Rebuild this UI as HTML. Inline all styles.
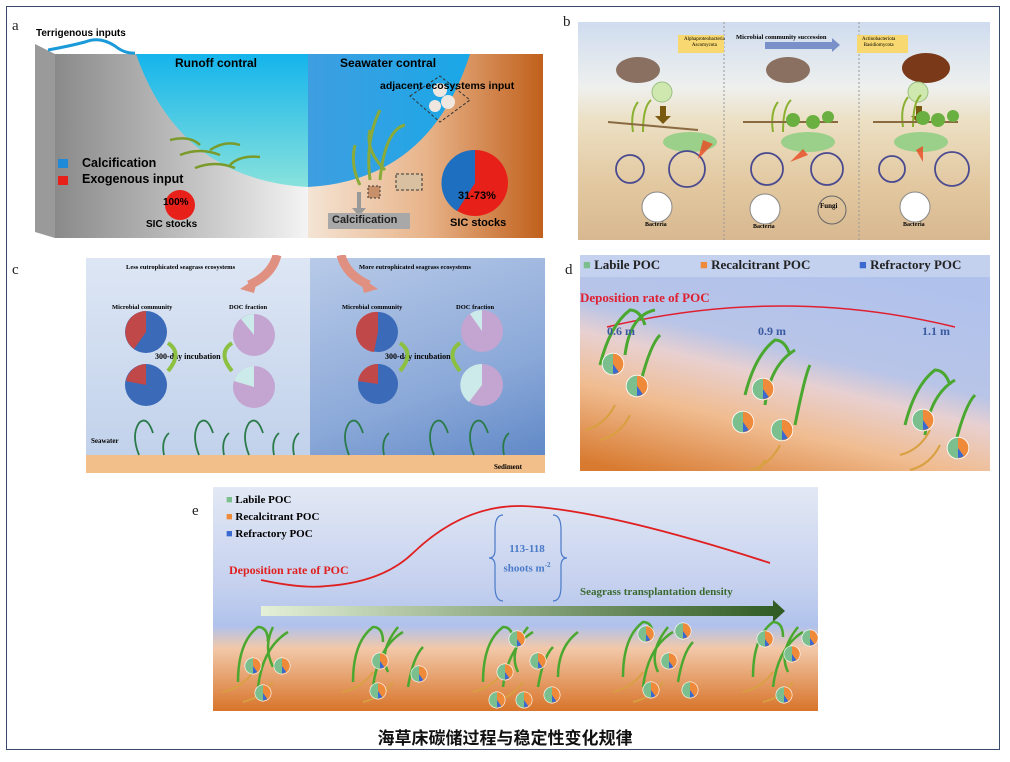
<!DOCTYPE html>
<html><head><meta charset="utf-8"><style>
body{margin:0;width:1010px;height:762px;background:#fff;position:relative;overflow:hidden;font-family:"Liberation Sans","Noto Sans CJK SC",sans-serif}
.abs{position:absolute}
.lbl{position:absolute;font-size:15px;color:#222;font-family:"Liberation Serif",serif}
.serif{font-family:"Liberation Serif",serif}
</style></head><body>
<svg width="0" height="0" style="position:absolute">
<defs>
<symbol id="pie" viewBox="-1.15 -1.15 2.3 2.3">
<circle r="1.08" fill="#fff"/>
<path d="M0 -1 A1 1 0 0 0 0 1Z" fill="#7cbf8e"/>
<path d="M0 -1 A1 1 0 0 1 0 1Z" fill="#ee8a3a"/>
<path d="M0 0 L0 0.95 A0.95 0.95 0 0 0 0.55 0.77Z" fill="#3a6ad0"/>
</symbol>
</defs></svg>
<div class="abs" style="left:6px;top:6px;width:992px;height:742px;border:1.5px solid #3a4a6a"></div>
<div class="lbl" style="left:12px;top:18px">a</div>
<div class="lbl" style="left:563px;top:14px">b</div>
<div class="lbl" style="left:12px;top:262px">c</div>
<div class="lbl" style="left:565px;top:262px">d</div>
<div class="lbl" style="left:192px;top:503px">e</div>

<!-- panel a -->
<svg class="abs" style="left:30px;top:20px" width="530" height="225">
<defs>
<linearGradient id="gl" x1="0" x2="1"><stop offset="0" stop-color="#8a8a8a"/><stop offset="0.6" stop-color="#c8c8c8"/><stop offset="1" stop-color="#f4f4f4"/></linearGradient>
<linearGradient id="gr" x1="0" x2="1"><stop offset="0" stop-color="#f4e4d4"/><stop offset="0.5" stop-color="#e8b48a"/><stop offset="1" stop-color="#c0601c"/></linearGradient>
<linearGradient id="wl" x1="0" y1="0" x2="0" y2="1"><stop offset="0" stop-color="#14b4ec"/><stop offset="1" stop-color="#88e2dc"/></linearGradient>
<linearGradient id="wr" x1="0" x2="1"><stop offset="0" stop-color="#3e9ee0"/><stop offset="1" stop-color="#1aa8e8"/></linearGradient>
</defs>
<polygon points="5,24 25,34 25,218 5,212" fill="#9a9a9a"/>
<rect x="25" y="34" width="253" height="184" fill="url(#gl)"/>
<rect x="278" y="34" width="235" height="184" fill="url(#gr)"/>
<path d="M106 34 Q150 160 278 167 L278 34Z" fill="url(#wl)"/>
<path d="M278 34 L440 34 Q400 160 278 167Z" fill="url(#wr)"/>
<path d="M18 30 Q40 26 55 22 Q70 16 85 26 Q95 34 105 33" stroke="#1a9ad8" stroke-width="3" fill="none"/>
<g stroke="#7a9a2a" stroke-width="2.5" fill="none"><path d="M140 120 q20-5 30 5"/><path d="M150 135 q20-8 40 0"/><path d="M165 148 q20-8 40 0"/><path d="M180 130 q15-10 30-5"/><path d="M200 145 q10-10 30-8"/></g>
<g stroke="#8aaa3a" stroke-width="3" fill="none"><path d="M340 160 q-5-40 10-70"/><path d="M350 160 q5-50 25-55"/><path d="M330 165 q-10-20 -5-40"/><path d="M355 150 q-20-20 -15-40"/></g>
<path d="M380 76 L410 56 L440 80 L410 102Z" fill="none" stroke="#333" stroke-dasharray="3 2"/>
<g fill="#f0e8e0"><circle cx="410" cy="70" r="7"/><circle cx="418" cy="82" r="7"/><circle cx="405" cy="86" r="6"/></g>
<rect x="366" y="154" width="26" height="16" fill="#d8c0a0" stroke="#333" stroke-dasharray="3 2"/>
<rect x="338" y="166" width="12" height="12" fill="#c8906a" stroke="#333" stroke-dasharray="2 2"/>
<rect x="327" y="172" width="4" height="18" fill="#999"/>
<polygon points="322,188 336,188 329,196" fill="#999"/>
<rect x="298" y="193" width="82" height="16" fill="#a8a8a8"/>
<circle cx="150" cy="185" r="15" fill="#e8201a"/>
<circle cx="445" cy="163" r="33" fill="#e8201a"/>
<path d="M445 163 L445 130 A33 33 0 0 0 427 191Z" fill="#1e6fc0"/>
<rect x="28" y="139" width="10" height="9" fill="#1e8ad8"/>
<rect x="28" y="156" width="10" height="9" fill="#e8201a"/>
</svg>
<div class="abs" style="left:36px;top:28px;font-size:10px;font-weight:bold">Terrigenous inputs</div>
<div class="abs" style="left:175px;top:56px;font-size:12px;font-weight:bold">Runoff contral</div>
<div class="abs" style="left:340px;top:56px;font-size:12px;font-weight:bold">Seawater contral</div>
<div class="abs" style="left:380px;top:80px;font-size:10.5px;font-weight:bold">adjacent ecosystems input</div>
<div class="abs" style="left:82px;top:156px;font-size:12.5px;font-weight:bold">Calcification</div>
<div class="abs" style="left:82px;top:172px;font-size:12.5px;font-weight:bold">Exogenous input</div>
<div class="abs" style="left:163px;top:197px;font-size:10px;font-weight:bold">100%</div>
<div class="abs" style="left:146px;top:219px;font-size:10px;font-weight:bold">SIC stocks</div>
<div class="abs" style="left:332px;top:214px;font-size:11px;font-weight:bold;color:#222">Calcification</div>
<div class="abs" style="left:458px;top:190px;font-size:11px;font-weight:bold">31-73%</div>
<div class="abs" style="left:450px;top:217px;font-size:11px;font-weight:bold">SIC stocks</div>

<!-- panel b -->
<div class="abs" style="left:578px;top:22px;width:412px;height:218px;background:linear-gradient(#cfdcef,#eef0ee 30%,#ece0c4 45%,#e2c8a0 75%,#d8b890)"></div>
<svg class="abs" style="left:578px;top:22px" width="412" height="218">
<g stroke="#999" stroke-dasharray="2 2"><line x1="146" y1="0" x2="146" y2="218"/><line x1="281" y1="0" x2="281" y2="218"/></g>
<rect x="100" y="13" width="46" height="18" fill="#f8d870"/>
<rect x="279" y="13" width="51" height="18" fill="#f8d870"/>
<rect x="187" y="20" width="67" height="7" fill="#7a90c8"/><polygon points="254,16 262,23 254,30" fill="#7a90c8"/>
<g fill="#8a7060"><ellipse cx="60" cy="48" rx="22" ry="13"/><ellipse cx="210" cy="48" rx="22" ry="13"/></g>
<ellipse cx="348" cy="46" rx="24" ry="15" fill="#7a3a1a"/>
<g fill="#cfe8b0" stroke="#9ac080"><circle cx="84" cy="70" r="10"/><circle cx="340" cy="70" r="10"/></g>
<g fill="#7a5a10"><rect x="82" y="84" width="6" height="10"/><polygon points="77,94 93,94 85,102"/><rect x="338" y="84" width="6" height="10"/><polygon points="333,94 349,94 341,102"/></g>
<g stroke="#8ab030" stroke-width="2" fill="none"><path d="M55 110 q-3-20 5-30"/><path d="M65 110 q0-25 8-32"/><path d="M195 110 q-3-20 5-30"/><path d="M205 110 q0-25 8-32"/><path d="M325 105 q-3-20 5-30"/><path d="M335 105 q0-25 8-32"/></g>
<g stroke="#8a6a40" stroke-width="2"><line x1="30" y1="100" x2="120" y2="108"/><line x1="165" y1="100" x2="260" y2="100"/><line x1="295" y1="100" x2="380" y2="100"/></g>
<g fill="#6ab040"><circle cx="215" cy="98" r="7"/><circle cx="235" cy="100" r="7"/><circle cx="250" cy="95" r="6"/><circle cx="345" cy="96" r="7"/><circle cx="360" cy="98" r="7"/><circle cx="375" cy="94" r="6"/></g>
<g fill="#9ad08a"><ellipse cx="112" cy="120" rx="27" ry="10"/><ellipse cx="230" cy="120" rx="27" ry="10"/><ellipse cx="343" cy="120" rx="27" ry="10"/></g>
<g fill="none" stroke="#4a4a90" stroke-width="1.8"><circle cx="52" cy="147" r="14"/><circle cx="109" cy="147" r="18"/><circle cx="189" cy="147" r="16"/><circle cx="249" cy="147" r="16"/><circle cx="314" cy="147" r="13"/><circle cx="374" cy="147" r="17"/></g>
<g fill="#fff" stroke="#888"><circle cx="79" cy="185" r="15"/><circle cx="187" cy="187" r="15"/><circle cx="337" cy="185" r="15"/></g>
<circle cx="254" cy="188" r="14" fill="none" stroke="#666"/>
<g fill="#e84a20" opacity="0.8"><polygon points="125,118 135,122 120,137"/><polygon points="225,127 230,133 212,140"/><polygon points="338,128 345,124 345,140"/></g>
</svg>
<div class="abs serif" style="left:736px;top:34px;font-size:6.5px;font-weight:bold">Microbial community succession</div>
<div class="abs serif" style="left:684px;top:37px;font-size:5px;line-height:6px;text-align:center">Alphaproteobacteria<br>Ascomycota</div>
<div class="abs serif" style="left:862px;top:37px;font-size:5px;line-height:6px;text-align:center">Actinobacteriota<br>Basidiomycota</div>
<div class="abs serif" style="left:820px;top:202px;font-size:7px;font-weight:bold">Fungi</div>
<div class="abs serif" style="left:645px;top:222px;font-size:6px;font-weight:bold">Bacteria</div>
<div class="abs serif" style="left:753px;top:224px;font-size:6px;font-weight:bold">Bacteria</div>
<div class="abs serif" style="left:903px;top:222px;font-size:6px;font-weight:bold">Bacteria</div>

<!-- panel c -->
<div class="abs" style="left:86px;top:258px;width:224px;height:215px;background:linear-gradient(#dde6f4,#bfd0ea)"></div>
<div class="abs" style="left:310px;top:258px;width:235px;height:215px;background:linear-gradient(160deg,#b8cae8,#8aa8d8 60%,#5a84c4)"></div>
<div class="abs" style="left:86px;top:455px;width:459px;height:18px;background:#f2be8a"></div>
<div class="abs serif" style="left:126px;top:264px;font-size:6.5px;font-weight:bold">Less eutrophicated seagrass ecosystems</div>
<div class="abs serif" style="left:359px;top:264px;font-size:6.5px;font-weight:bold">More eutrophicated seagrass ecosystems</div>
<div class="abs serif" style="left:112px;top:304px;font-size:6.5px;font-weight:bold">Microbial community</div>
<div class="abs serif" style="left:229px;top:304px;font-size:6.5px;font-weight:bold">DOC fraction</div>
<div class="abs serif" style="left:342px;top:304px;font-size:6.5px;font-weight:bold">Microbial community</div>
<div class="abs serif" style="left:456px;top:304px;font-size:6.5px;font-weight:bold">DOC fraction</div>
<div class="abs serif" style="left:155px;top:352px;font-size:8px;font-weight:bold">300-day incubation</div>
<div class="abs serif" style="left:385px;top:352px;font-size:8px;font-weight:bold">300-day incubation</div>
<div class="abs serif" style="left:91px;top:437px;font-size:7px;font-weight:bold">Seawater</div>
<div class="abs serif" style="left:494px;top:463px;font-size:7px;font-weight:bold">Sediment</div>
<svg class="abs" style="left:84px;top:255px" width="465" height="222">
<path d="M193 0 q-5 20 -28 30" stroke="#e09080" stroke-width="9" fill="none"/><polygon points="156,34 174,22 170,38" fill="#e09080"/>
<path d="M257 0 q5 20 28 30" stroke="#e09080" stroke-width="9" fill="none"/><polygon points="294,34 276,22 280,38" fill="#e09080"/>
<circle cx="62" cy="77" r="21" fill="#3a6ab8"/><path d="M62 77 L62 56 A21 21 0 0 0 50 94Z" fill="#c04848"/>
<circle cx="62" cy="130" r="21" fill="#3a6ab8"/><path d="M62 130 L62 109 A21 21 0 0 0 42 126Z" fill="#c04848"/>
<circle cx="170" cy="80" r="21" fill="#c4a4d0"/><path d="M170 80 L170 59 A21 21 0 0 0 157 64Z" fill="#cdeaea"/>
<circle cx="170" cy="132" r="21" fill="#c4a4d0"/><path d="M170 132 L170 111 A21 21 0 0 0 150 126Z" fill="#cdeaea"/>
<circle cx="294" cy="77" r="20" fill="#3a6ab8"/><path d="M294 77 L294 57 A20 20 0 1 0 290 97Z" fill="#c04848"/>
<circle cx="294" cy="129" r="20" fill="#3a6ab8"/><path d="M294 129 L294 109 A20 20 0 0 0 274 126Z" fill="#c04848"/>
<circle cx="398" cy="76" r="21" fill="#c4a4d0"/><path d="M398 76 L398 55 A21 21 0 0 0 386 59Z" fill="#cdeaea"/>
<circle cx="398" cy="130" r="21" fill="#c4a4d0"/><path d="M398 130 L398 109 A21 21 0 0 0 385 147Z" fill="#cdeaea"/>
<g stroke="#8cc040" stroke-width="4" fill="none"><path d="M84 88 q15 10 0 28"/><path d="M148 88 q-15 10 0 28"/><path d="M316 88 q15 10 0 28"/><path d="M376 88 q-15 10 0 28"/></g>
<g stroke="#2a7a4a" stroke-width="1.8" fill="none"><path d="M55 200 q-8-20 0-32 q8-8 14 10"/><path d="M80 200 q-3-15 5-22"/><path d="M115 200 q-8-20 0-32 q8-8 14 10"/><path d="M140 200 q-3-15 5-22"/><path d="M165 200 q-8-20 0-32 q8-8 14 10"/><path d="M190 200 q-3-15 5-22"/><path d="M210 200 q-3-15 5-22"/><path d="M265 200 q-8-20 0-32 q8-8 14 10"/><path d="M300 200 q-3-15 5-22"/><path d="M350 200 q-8-20 0-32 q8-8 14 10"/><path d="M390 200 q-8-20 0-32 q8-8 14 10"/><path d="M420 200 q-3-15 5-22"/></g>
</svg>

<!-- panel d -->
<svg class="abs" style="left:580px;top:255px" width="410" height="216">
<defs><linearGradient id="dg" x1="0.1" y1="1" x2="0.55" y2="0"><stop offset="0" stop-color="#d87a30"/><stop offset="0.3" stop-color="#f0bc90"/><stop offset="0.5" stop-color="#e8d0d0"/><stop offset="0.62" stop-color="#b8c4e8"/><stop offset="1" stop-color="#b0c2ec"/></linearGradient></defs>
<rect width="410" height="216" fill="url(#dg)"/>
<rect width="410" height="22" fill="#c8d4f0" opacity="0.8"/>
<path d="M27 72 Q203 30 375 72" stroke="#e02030" stroke-width="1.5" fill="none"/>
<g stroke="#4aa830" stroke-width="3" fill="none"><path d="M20 110 q10-40 30-55 q10 0 15 15"/><path d="M45 100 q5-40 30-45"/><path d="M60 130 q10-40 20-50"/><path d="M165 140 q10-40 30-55 q10 0 15 15"/><path d="M185 150 q5-40 30-55"/><path d="M215 170 q10-50 15-60"/><path d="M325 170 q10-40 30-55 q10 0 15 15"/><path d="M345 180 q5-40 30-55"/><path d="M375 190 q10-40 20-50"/></g>
<g stroke="#d8a040" stroke-width="2" fill="none"><path d="M5 175 q20-5 30-25"/><path d="M20 185 q20-5 30-25"/><path d="M155 230 q20-5 30-25"/><path d="M170 215 q20-5 30-25"/><path d="M320 200 q20-5 30-25"/><path d="M330 215 q20-5 30-25"/></g>
<use href="#pie" x="21" y="97" width="24" height="24"/>
<use href="#pie" x="45" y="119" width="24" height="24"/>
<use href="#pie" x="171" y="122" width="24" height="24"/>
<use href="#pie" x="151" y="155" width="24" height="24"/>
<use href="#pie" x="190" y="163" width="24" height="24"/>
<use href="#pie" x="331" y="153" width="24" height="24"/>
<use href="#pie" x="366" y="181" width="24" height="24"/>
</svg>
<div class="abs serif" style="left:583px;top:257px;font-size:13px;font-weight:bold;color:#222;white-space:nowrap"><span style="color:#7cbf8e">■</span> Labile POC</div>
<div class="abs serif" style="left:700px;top:257px;font-size:13px;font-weight:bold;color:#222;white-space:nowrap"><span style="color:#ee8a3a">■</span> Recalcitrant POC</div>
<div class="abs serif" style="left:859px;top:257px;font-size:13px;font-weight:bold;color:#222;white-space:nowrap"><span style="color:#3a6ad0">■</span> Refractory POC</div>
<div class="abs serif" style="left:580px;top:290px;font-size:13px;font-weight:bold;color:#e02030">Deposition rate of POC</div>
<div class="abs serif" style="left:607px;top:324px;font-size:12px;font-weight:bold;color:#3a5aa0">0.6 m</div>
<div class="abs serif" style="left:758px;top:324px;font-size:12px;font-weight:bold;color:#3a5aa0">0.9 m</div>
<div class="abs serif" style="left:922px;top:324px;font-size:12px;font-weight:bold;color:#3a5aa0">1.1 m</div>

<!-- panel e -->
<svg class="abs" style="left:213px;top:487px" width="605" height="224">
<defs>
<linearGradient id="eg" x1="0" y1="0" x2="0" y2="1"><stop offset="0" stop-color="#e2e8f4"/><stop offset="0.45" stop-color="#c4d0ee"/><stop offset="0.62" stop-color="#b0c2ec"/><stop offset="0.72" stop-color="#f2c8a8"/><stop offset="1" stop-color="#d8742a"/></linearGradient>
<linearGradient id="ar" x1="0" x2="1"><stop offset="0" stop-color="#e4f0d8"/><stop offset="1" stop-color="#2e5a22"/></linearGradient></defs>
<rect width="605" height="224" fill="url(#eg)"/>
<path d="M48 93 Q90 102 114 99 Q170 95 200 66 Q250 18 309 19 Q390 22 557 76" stroke="#e02020" stroke-width="1.8" fill="none"/>
<path d="M290 28 q-8 0 -8 15 v20 q0 8 -6 8 q6 0 6 8 v20 q0 15 8 15 M340 28 q8 0 8 15 v20 q0 8 6 8 q-6 0 -6 8 v20 q0 15 -8 15" stroke="#4a7ac8" fill="none" stroke-width="1.2"/>
<path d="M48 119 L560 119 L560 113 L572 124 L560 135 L560 129 L48 129Z" fill="url(#ar)"/>
<g stroke="#4aa830" stroke-width="2.5" fill="none">
<path d="M25 195 q0-40 20-55 q10 0 10 15"/><path d="M45 200 q5-40 30-55"/><path d="M60 180 q-10-20 0-40"/>
<path d="M140 195 q0-40 20-55 q10 0 10 15"/><path d="M160 200 q5-40 30-55"/><path d="M175 185 q-10-20 10-45"/><path d="M195 200 q5-30 15-40"/>
<path d="M270 195 q0-40 20-55 q10 0 10 15"/><path d="M290 200 q5-40 30-55"/><path d="M305 185 q-10-20 10-45"/><path d="M325 200 q5-30 15-40"/><path d="M345 190 q0-30 20-45"/>
<path d="M410 190 q0-40 20-55 q10 0 10 15"/><path d="M430 200 q5-40 30-55"/><path d="M445 185 q-10-20 10-45"/><path d="M465 195 q5-30 15-40"/>
<path d="M540 190 q0-40 20-55 q10 0 10 15"/><path d="M560 200 q5-40 30-55"/><path d="M575 185 q-10-20 10-45"/>
</g>
<g stroke="#d8a040" stroke-width="1.8" fill="none"><path d="M10 205 q20-5 30-20"/><path d="M30 215 q20-5 30-20"/><path d="M130 205 q20-5 30-20"/><path d="M150 215 q20-5 30-20"/><path d="M260 205 q20-5 30-20"/><path d="M280 215 q20-5 30-20"/><path d="M400 205 q20-5 30-20"/><path d="M420 215 q20-5 30-20"/><path d="M530 205 q20-5 30-20"/><path d="M550 215 q20-5 30-20"/></g>
<g>
<use href="#pie" x="31" y="170" width="18" height="18"/><use href="#pie" x="60" y="170" width="18" height="18"/><use href="#pie" x="41" y="197" width="18" height="18"/>
<use href="#pie" x="158" y="165" width="18" height="18"/><use href="#pie" x="197" y="178" width="18" height="18"/><use href="#pie" x="156" y="195" width="18" height="18"/>
<use href="#pie" x="295" y="143" width="18" height="18"/><use href="#pie" x="316" y="165" width="18" height="18"/><use href="#pie" x="283" y="176" width="18" height="18"/><use href="#pie" x="275" y="204" width="18" height="18"/><use href="#pie" x="302" y="204" width="18" height="18"/><use href="#pie" x="330" y="199" width="18" height="18"/>
<use href="#pie" x="424" y="138" width="18" height="18"/><use href="#pie" x="461" y="135" width="18" height="18"/><use href="#pie" x="447" y="165" width="18" height="18"/><use href="#pie" x="429" y="194" width="18" height="18"/><use href="#pie" x="468" y="194" width="18" height="18"/>
<use href="#pie" x="543" y="143" width="18" height="18"/><use href="#pie" x="588" y="142" width="18" height="18"/><use href="#pie" x="570" y="158" width="18" height="18"/><use href="#pie" x="562" y="199" width="18" height="18"/>
</g>
</svg>
<div class="abs serif" style="left:226px;top:492px;font-size:11px;font-weight:bold;line-height:17px"><span style="color:#7cbf8e">■</span> Labile POC<br><span style="color:#ee8a3a">■</span> Recalcitrant POC<br><span style="color:#3a6ad0">■</span> Refractory POC</div>
<div class="abs serif" style="left:229px;top:563px;font-size:12px;font-weight:bold;color:#e02020">Deposition rate of POC</div>
<div class="abs serif" style="left:495px;top:541px;width:64px;font-size:11px;font-weight:bold;color:#4a7ac8;text-align:center;line-height:16px">113-118<br>shoots m<sup style="font-size:7px">-2</sup></div>
<div class="abs serif" style="left:580px;top:586px;font-size:11px;font-weight:bold;color:#3a6a30">Seagrass transplantation density</div>

<div class="abs" style="left:0;width:1010px;top:724px;text-align:center;font-size:17px;font-weight:bold;color:#111;font-family:'Noto Sans CJK SC',sans-serif">海草床碳储过程与稳定性变化规律</div>
</body></html>
